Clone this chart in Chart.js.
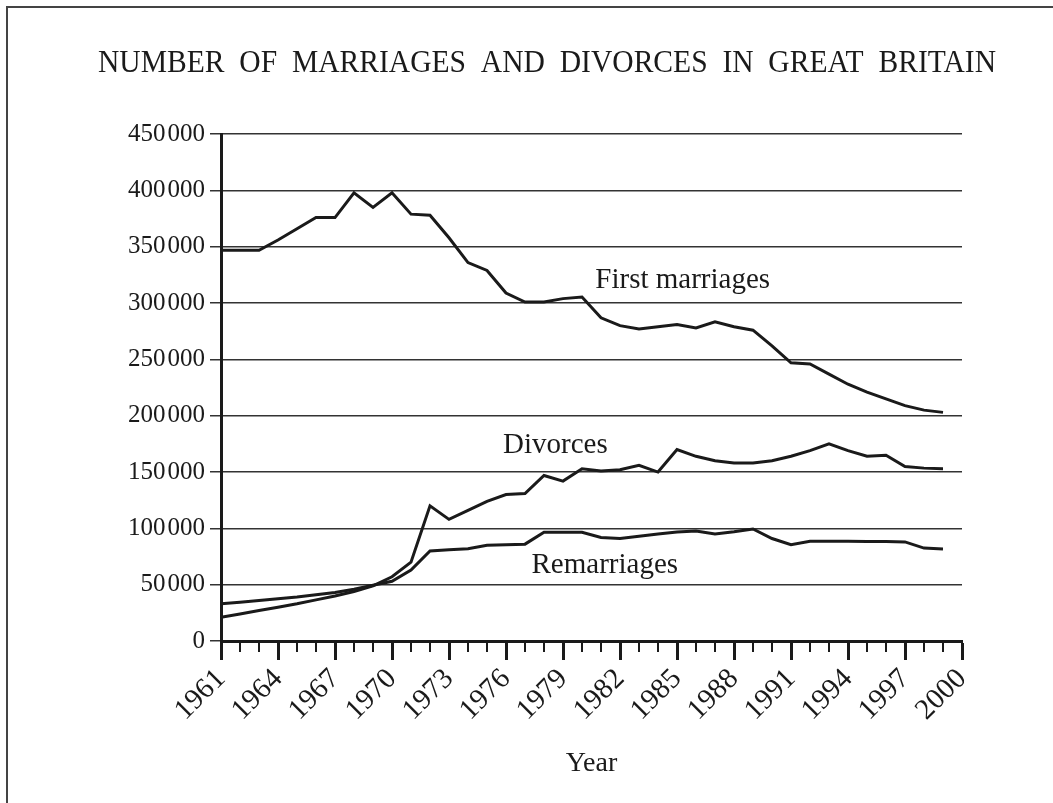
<!DOCTYPE html>
<html lang="en">
<head>
<meta charset="UTF-8">
<title>Number of marriages and divorces in Great Britain</title>
<script src="https://cdn.jsdelivr.net/npm/chart.js@4"></script>
<style>
  body { margin: 0; background: #fff; }
  #wrap { position: relative; width: 1053px; height: 803px; }
</style>
</head>
<body>
<div id="wrap"><canvas id="chart" width="1053" height="803"></canvas></div>
<script>
// Values (1961-1999)
const years = [
  1961, 1962, 1963, 1964, 1965, 1966, 1967, 1968, 1969, 1970,
  1971, 1972, 1973, 1974, 1975, 1976, 1977, 1978, 1979, 1980,
  1981, 1982, 1983, 1984, 1985, 1986, 1987, 1988, 1989, 1990,
  1991, 1992, 1993, 1994, 1995, 1996, 1997, 1998, 1999
];
const firstMarriages = [
  347000, 347000, 347000, 356000, 366000, 376000, 376000, 398000, 385000, 398000,
  379000, 378000, 358000, 336000, 329000, 309000, 301000, 301000, 304000, 305500,
  287000, 280000, 277000, 279000, 281000, 278000, 283500, 279000, 276000, 262000,
  247000, 246000, 237000, 228000, 221000, 215000, 209000, 205000, 203000
];
const divorces = [
  21000, 24000, 27000, 30000, 33000, 36500, 40000, 44000, 49000, 57000,
  70000, 120000, 108000, 116000, 124000, 130000, 131000, 147000, 142000, 153000,
  151000, 152000, 156000, 150000, 170000, 164000, 160000, 158000, 158000, 160000,
  164000, 169000, 175000, 169000, 164000, 165000, 155000, 153500, 153000
];
const remarriages = [
  33000, 34500, 36000, 37500, 39000, 41000, 43000, 46000, 49500, 53000,
  63000, 80000, 81000, 82000, 85000, 85500, 86000, 96500, 96500, 96500,
  92000, 91000, 93000, 95000, 96700, 97600, 95000, 97000, 99500, 91000,
  85500, 88500, 88500, 88500, 88300, 88300, 88000, 82500, 81700
];

// Axis ticks
const xTicks = [1961, 1964, 1967, 1970, 1973, 1976, 1979, 1982, 1985, 1988, 1991, 1994, 1997, 2000];
const yTicks = [0, 50000, 100000, 150000, 200000, 250000, 300000, 350000, 400000, 450000];

// Line labels written beside the curves (year, value)
const seriesNames = ['First marriages', 'Divorces', 'Remarriages'];
const nameYears = [1985.3, 1978.6, 1981.2];
const nameValues = [320000, 173700, 67200];

const INK = '#1a1a1a';
const SERIF = "'Liberation Serif', 'Times New Roman', serif";

// thin outer frame (left + top edge of the page box)
const framePlugin = {
  id: 'frame',
  beforeDraw(chart) {
    const ctx = chart.ctx;
    ctx.save();
    ctx.strokeStyle = '#444';
    ctx.lineWidth = 2;
    ctx.beginPath();
    ctx.moveTo(7, chart.height);
    ctx.lineTo(7, 7);
    ctx.lineTo(chart.width, 7);
    ctx.stroke();
    ctx.restore();
  }
};

// short tick for every year between the labelled ones
const minorTicks = {
  id: 'minorTicks',
  afterDraw(chart) {
    const x = chart.scales.x;
    const ctx = chart.ctx;
    ctx.save();
    ctx.strokeStyle = INK;
    ctx.lineWidth = 2;
    ctx.beginPath();
    for (let yr = x.min; yr <= x.max; yr++) {
      const px = Math.round(x.getPixelForValue(yr));
      ctx.moveTo(px, x.top);
      ctx.lineTo(px, x.top + 11);
    }
    ctx.stroke();
    ctx.restore();
  }
};

// names of the three curves
const seriesNameLabels = {
  id: 'seriesNameLabels',
  afterDatasetsDraw(chart) {
    const { x, y } = chart.scales;
    const ctx = chart.ctx;
    ctx.save();
    ctx.font = '29px ' + SERIF;
    ctx.fillStyle = INK;
    ctx.textAlign = 'center';
    ctx.textBaseline = 'middle';
    seriesNames.forEach((name, i) => {
      ctx.fillText(name, x.getPixelForValue(nameYears[i]), y.getPixelForValue(nameValues[i]));
    });
    ctx.restore();
  }
};

const toPoints = vals => years.map((yr, i) => ({ x: yr, y: vals[i] }));
const lineStyle = { borderColor: INK, borderWidth: 3, pointRadius: 0, tension: 0, fill: false };

new Chart(document.getElementById('chart'), {
  type: 'line',
  data: {
    datasets: [
      { label: seriesNames[0], data: toPoints(firstMarriages), ...lineStyle },
      { label: seriesNames[1], data: toPoints(divorces), ...lineStyle },
      { label: seriesNames[2], data: toPoints(remarriages), ...lineStyle }
    ]
  },
  options: {
    responsive: false,
    animation: false,
    // title box runs 98..996 px, plot area 221..962 px
    layout: { padding: { top: 7, left: 98, right: 57, bottom: 23 } },
    plugins: {
      legend: { display: false },
      tooltip: { enabled: false },
      title: {
        display: true,
        text: 'NUMBER  OF  MARRIAGES  AND  DIVORCES  IN  GREAT  BRITAIN',
        color: INK,
        font: { family: SERIF, size: 31, weight: 'normal' },
        padding: { top: 38, bottom: 52 }
      }
    },
    scales: {
      x: {
        type: 'linear',
        min: 1961,
        max: 2000,
        afterBuildTicks: scale => { scale.ticks = xTicks.map(v => ({ value: v })); },
        afterFit: scale => { scale.height = 139; scale.paddingLeft = 0; scale.paddingRight = 0; },
        ticks: {
          autoSkip: false,
          maxRotation: 45,
          minRotation: 45,
          padding: 2,
          color: INK,
          font: { family: SERIF, size: 29 },
          callback: v => String(v)
        },
        grid: { drawOnChartArea: false, tickLength: 19, tickWidth: 3, tickColor: INK },
        border: { width: 3, color: INK },
        title: {
          display: true,
          text: 'Year',
          color: INK,
          font: { family: SERIF, size: 28 },
          padding: 0
        }
      },
      y: {
        min: 0,
        max: 450000,
        afterBuildTicks: scale => { scale.ticks = yTicks.map(v => ({ value: v })); },
        afterFit: scale => { scale.width = 123; },
        ticks: {
          padding: 5,
          color: INK,
          font: { family: SERIF, size: 25 },
          callback: v => v === 0 ? '0' : Math.round(v / 1000) + '\u200a000'
        },
        grid: { color: '#333', lineWidth: 1.5, tickLength: 11, tickColor: '#333' },
        border: { width: 3, color: INK }
      },
      // empty right-hand strip so the plot ends at 962 px
      yRight: {
        position: 'right',
        min: 0,
        max: 450000,
        afterFit: scale => { scale.width = 34; },
        ticks: { display: false },
        grid: { display: false, drawTicks: false },
        border: { display: false }
      }
    }
  },
  plugins: [framePlugin, minorTicks, seriesNameLabels]
});
</script>
</body>
</html>
